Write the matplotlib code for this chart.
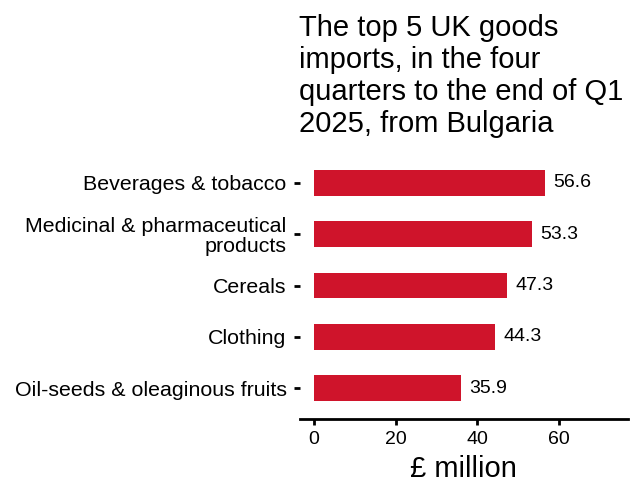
import matplotlib
matplotlib.use("Agg")
import matplotlib.pyplot as plt

plt.rcParams['font.family'] = ['Liberation Sans', 'DejaVu Sans']

# data, bottom to top as drawn
categories = ["Oil-seeds & oleaginous fruits", "Clothing", "Cereals",
              "Medicinal & pharmaceutical\nproducts", "Beverages & tobacco"]
values = [35.9, 44.3, 47.3, 53.3, 56.6]
xticks = [0, 20, 40, 60]

bar_color = "#CF142B"

fig = plt.figure(figsize=(6.34, 4.82), dpi=100)
ax = fig.add_axes([0.473, 0.1307, 0.5175, 0.5539])

pos = list(range(len(categories)))
ax.barh(pos, values, height=0.5, color=bar_color)

for p, v in zip(pos, values):
    ax.annotate(f"{v:.1f}", xy=(v, p), xytext=(6, 0), textcoords="offset points",
                va="center", ha="left", fontsize=14, color="black")

ax.set_yticks(pos)
ax.set_yticklabels(categories, fontsize=15.4, linespacing=1.08)
ax.set_xticks(xticks)
ax.set_xticklabels([str(t) for t in xticks], fontsize=14)
ax.set_xlim(-3.43, 76.9)
ax.set_ylim(-0.6, 4.6)

for s in ["top", "right", "left"]:
    ax.spines[s].set_visible(False)
ax.spines["bottom"].set_linewidth(2)
ax.tick_params(axis="y", length=4.5, width=2, pad=5, colors="black")
ax.tick_params(axis="x", length=4.5, width=2, pad=4, colors="black")

ax.set_xlabel("£ million", fontsize=21, labelpad=5)

fig.text(0.472, 0.971,
         "The top 5 UK goods\nimports, in the four\nquarters to the end of Q1\n2025, from Bulgaria",
         ha="left", va="top", fontsize=21, linespacing=1.18)

fig.savefig("out.png", dpi=100)
